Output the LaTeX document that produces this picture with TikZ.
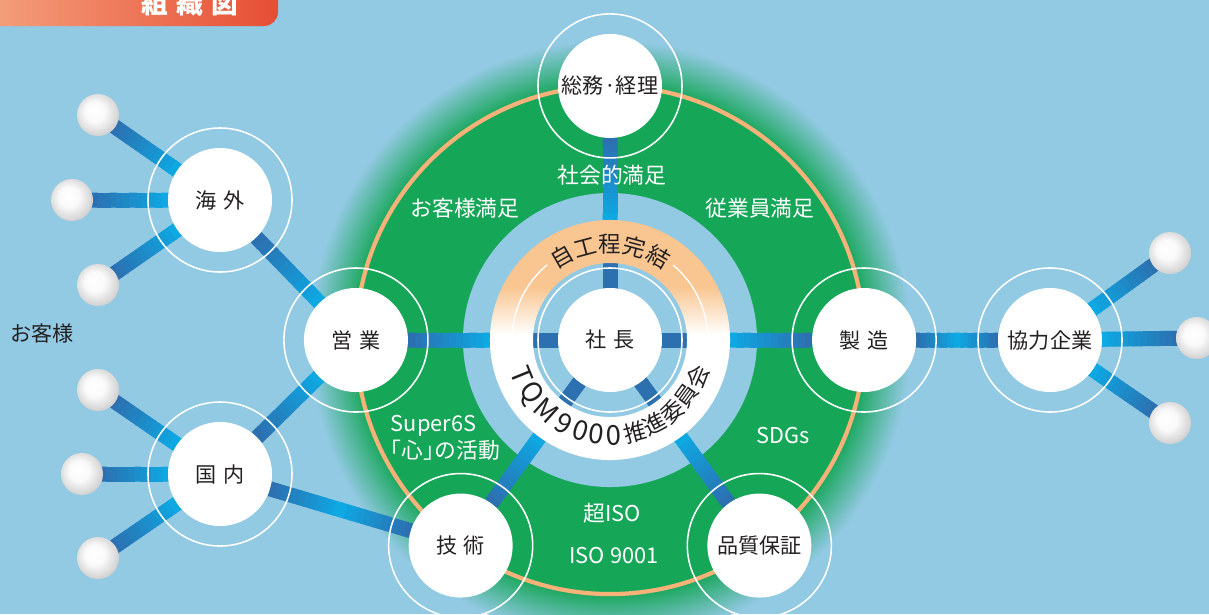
\documentclass[tikz,border=0pt]{standalone}
\usepackage{fontspec}
\setmainfont{Noto Sans CJK JP}
\usetikzlibrary{calc}

\definecolor{sky}{RGB}{146,201,227}
\definecolor{leaf}{RGB}{22,166,88}
\definecolor{peach}{RGB}{246,178,120}
\definecolor{apricot}{RGB}{249,198,146}
\definecolor{bardark}{RGB}{44,112,176}
\definecolor{barlight}{RGB}{14,168,226}
\definecolor{ink}{RGB}{35,32,32}
\definecolor{salmon}{RGB}{244,162,126}
\definecolor{scarlet}{RGB}{230,78,52}

\pgfdeclareradialshading{greenfade}{\pgfpoint{0bp}{0bp}}{color(0bp)=(leaf); color(21bp)=(leaf); color(25bp)=(sky); color(50bp)=(sky)}
\pgfdeclareverticalshading{ringfade}{100bp}{color(0bp)=(white); color(51bp)=(white); color(61bp)=(apricot); color(100bp)=(apricot)}
\pgfdeclareradialshading{pearl}{\pgfpoint{-5bp}{5bp}}{color(0bp)=(white); color(12bp)=(white!96!gray); color(28bp)=(gray!38); color(50bp)=(gray!38)}

\pgfdeclarelayer{back}
\pgfdeclarelayer{tubes}
\pgfsetlayers{back,tubes,main}

\newcommand\deptfont{\fontsize{15pt}{17pt}\selectfont}
\newcommand\ringfont{\fontsize{16pt}{18pt}\selectfont}
\newcommand\latinfont{\fontsize{19.5pt}{20pt}\selectfont}
\newcommand\notefont{\fontsize{15.5pt}{19.5pt}\selectfont}
\newcommand\tube[4]{%
  \path ($(#1)!#3!(#2)$) coordinate (t1) ($(#2)!#4!(#1)$) coordinate (t2);
  \foreach \k in {0,...,11}{
    \pgfmathsetmacro\ta{\k/12}
    \pgfmathsetmacro\tb{(\k+1.2)/12}
    \pgfmathtruncatemacro\m{100*\k/11}
    \draw[tubeline, barlight!\m!bardark] ($(t1)!\ta!(t2)$) -- ($(t1)!\tb!(t2)$);
  }}

\tikzset{
  dept/.style={circle, fill=white, minimum size=2.6cm, inner sep=0pt, text=ink, font=\deptfont},
  pearlball/.style={circle, shade, shading=pearl, minimum size=1.05cm, inner sep=0pt},
  halo/.style={draw=white, line width=1.1pt},
  tubeline/.style={line width=0.375cm},
  note/.style={text=white, font=\notefont},
  ringtext/.style={text=ink, font=\ringfont, inner sep=0pt},
}

\begin{document}
\begin{tikzpicture}[x=0.025cm, y=-0.025cm]
  \useasboundingbox (0,0) rectangle (1209,614);
  \clip (0,0) rectangle (1209,614);
  \coordinate (hub) at (610,340);

  \begin{pgfonlayer}{back}
    \fill[sky] (0,0) rectangle (1209,614);
    \shade[left color=salmon, right color=scarlet, rounded corners=0.35cm] (-20,-30) rectangle (278,26);
    \shade[shading=greenfade] (hub) circle (7.5cm);
    \draw[peach, line width=3pt] (hub) circle (6.35cm);
    \fill[sky] (hub) circle (3.675cm);
  \end{pgfonlayer}

  \node[text=white, font=\fontsize{19pt}{20pt}\selectfont\bfseries] (title) at (190,3) {組\hspace{0.3em}織\hspace{0.3em}図};

  % center rings
  \begin{scope}[shift={(hub)}]
    \shade[shading=ringfade, even odd rule] (0,0) circle (3cm) (0,0) circle (1.925cm);
    \draw[white, line width=1pt] (183:2.45cm) arc (183:130:2.45cm);
    \draw[white, line width=1pt] (50:2.45cm) arc (50:-3:2.45cm);
    \foreach \c [count=\i from 0] in {自,工,程,完,結}
      \node[ringtext, rotate={30-15*\i}] at ({120-15*\i}:2.4cm) {\c};
    \foreach \a/\c in {202/{\latinfont T}, 214/{\latinfont Q}, 228/{\latinfont M}, 241/{\latinfont 9}, 252/{\latinfont 0}, 262/{\latinfont 0}, 272/{\latinfont 0}, 285/推, 298/進, 311/委, 324/員, 337/会}
      \node[ringtext, rotate=\a+90] at (\a:2.38cm) {\c};
    \node[dept] (boss) at (0,0) {社\hspace{0.3em}長};
    \node[dept] (soumu) at (90:6.35cm) {総務·経理};
    \node[dept] (eigyo) at (180:6.35cm) {営\hspace{0.3em}業};
    \node[dept] (seizo) at (0:6.35cm) {製\hspace{0.3em}造};
    \node[dept] (gijutsu) at (234:6.35cm) {技\hspace{0.3em}術};
    \node[dept] (hinshitsu) at (306:6.35cm) {品質保証};
  \end{scope}

  \node[dept] (kaigai) at (220,200) {海\hspace{0.3em}外};
  \node[dept] (kokunai) at (220,474) {国\hspace{0.3em}内};
  \node[dept] (kyoryoku) at (1050,340) {協力企業};

  \node[pearlball] (ka1) at (98,115) {};
  \node[pearlball] (ka2) at (72,200) {};
  \node[pearlball] (ka3) at (98,285) {};
  \node[pearlball] (ko1) at (98,390) {};
  \node[pearlball] (ko2) at (82,474) {};
  \node[pearlball] (ko3) at (98,558) {};
  \node[pearlball] (kr1) at (1170,253) {};
  \node[pearlball] (kr2) at (1197,338) {};
  \node[pearlball] (kr3) at (1170,423) {};

  \foreach \n in {boss,soumu,eigyo,seizo,gijutsu,hinshitsu,kaigai,kokunai,kyoryoku}
    \draw[halo] (\n) circle (1.8cm);

  \node[text=ink, font=\deptfont] (kyaku) at (42,333) {お客様};
  \node[note] (shakai) at (612,175) {社会的満足};
  \node[note] (okyaku) at (465,208) {お客様満足};
  \node[note] (jugyo) at (760,208) {従業員満足};
  \node[note, align=left, anchor=west] (super) at (386,438) {Super6S\\｢心｣の活動};
  \node[note] (sdgs) at (783,435) {SDGs};
  \node[note] (choiso) at (612,513) {超ISO};
  \node[note] (iso) at (614,555) {ISO 9001};

  \begin{pgfonlayer}{tubes}
    \foreach \n in {soumu,eigyo,seizo,gijutsu,hinshitsu}{
      \tube{\n}{boss}{1.3cm}{3cm}
      \draw[tubeline, bardark] (boss.center) -- ($(boss)!2cm!(\n)$);
    }
    \foreach \n in {ka1,ka2,ka3} {\tube{\n}{kaigai}{0.45cm}{1.3cm}}
    \foreach \n in {ko1,ko2,ko3} {\tube{\n}{kokunai}{0.45cm}{1.3cm}}
    \foreach \n in {kr1,kr2,kr3} {\tube{\n}{kyoryoku}{0.45cm}{1.3cm}}
    \tube{kaigai}{eigyo}{1.3cm}{1.3cm}
    \tube{kokunai}{eigyo}{1.3cm}{1.3cm}
    \coordinate (mid1) at ($(kokunai)!0.5!(gijutsu)$);
    \tube{kokunai}{mid1}{1.3cm}{0cm}
    \tube{gijutsu}{mid1}{1.3cm}{0cm}
    \coordinate (mid2) at ($(seizo)!0.5!(kyoryoku)$);
    \tube{seizo}{mid2}{1.3cm}{0cm}
    \tube{kyoryoku}{mid2}{1.3cm}{0cm}
  \end{pgfonlayer}
\end{tikzpicture}
\end{document}
